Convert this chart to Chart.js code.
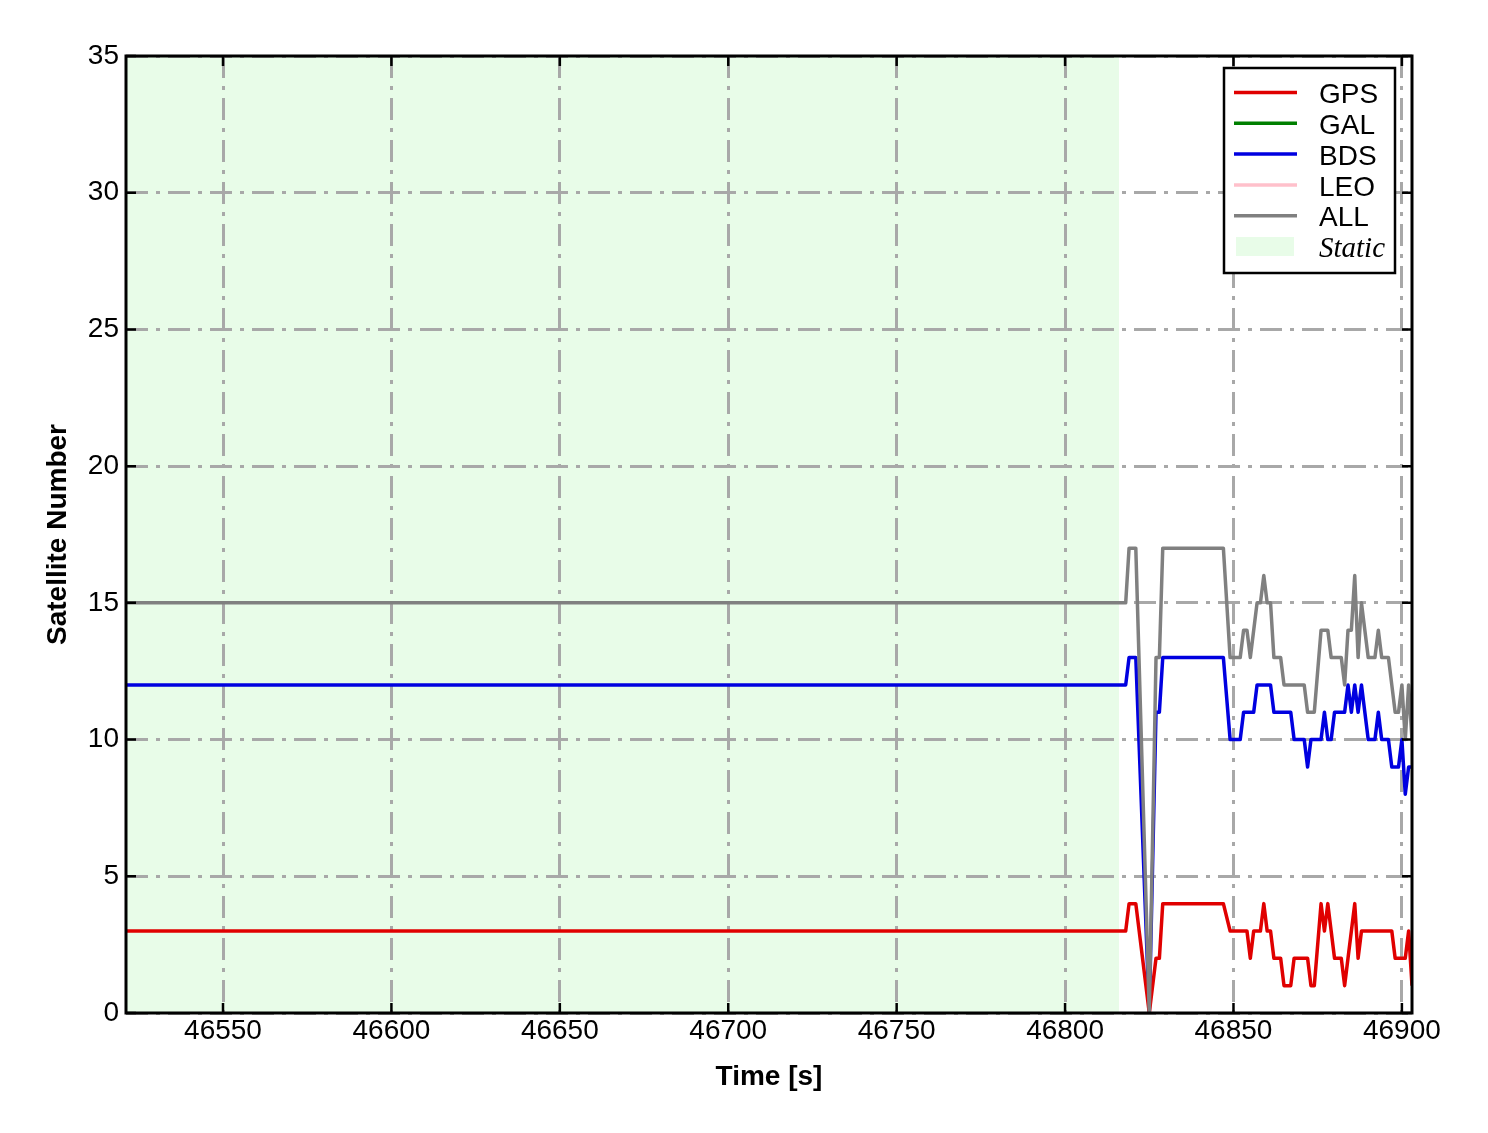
<!DOCTYPE html>
<html>
<head>
<meta charset="utf-8">
<script src="https://cdn.jsdelivr.net/npm/chart.js@4.4.1/dist/chart.umd.min.js"></script>
<style>
  html, body { margin: 0; padding: 0; background: #fff; }
  #wrap { width: 1488px; height: 1133px; }
</style>
</head>
<body>
<div id="wrap"><canvas id="satChart" width="1488" height="1133"></canvas></div>
<script>
// epochs [s] (flat stretches kept as their end points)
const timeSec = [
  46521, 46818, 46819, 46821, 46825, 46827, 46828, 46829, 46847,
  46849, 46850, 46851, 46852, 46853, 46854, 46855, 46856, 46857, 46858,
  46859, 46860, 46861, 46862, 46863, 46864, 46865, 46866, 46867, 46868,
  46869, 46870, 46871, 46872, 46873, 46874, 46876, 46877, 46878, 46879,
  46880, 46881, 46882, 46883, 46884, 46885, 46886, 46887, 46888, 46889,
  46890, 46891, 46892, 46893, 46894, 46895, 46896, 46897, 46898, 46899,
  46900, 46901, 46902, 46903
];
const gpsCount = [
  3, 3, 4, 4, 0, 2, 2, 4, 4,
  3, 3, 3, 3, 3, 3, 2, 3, 3, 3,
  4, 3, 3, 2, 2, 2, 1, 1, 1, 2,
  2, 2, 2, 2, 1, 1, 4, 3, 4, 3,
  2, 2, 2, 1, 2, 3, 4, 2, 3, 3,
  3, 3, 3, 3, 3, 3, 3, 3, 2, 2,
  2, 2, 3, 1
];
const bdsCount = [
  12, 12, 13, 13, 0, 11, 11, 13, 13,
  10, 10, 10, 10, 11, 11, 11, 11, 12, 12,
  12, 12, 12, 11, 11, 11, 11, 11, 11, 10,
  10, 10, 10, 9, 10, 10, 10, 11, 10, 10,
  11, 11, 11, 11, 12, 11, 12, 11, 12, 11,
  10, 10, 10, 11, 10, 10, 10, 9, 9, 9,
  10, 8, 9, 9
];
const allCount = [
  15, 15, 17, 17, 0, 13, 13, 17, 17,
  13, 13, 13, 13, 14, 14, 13, 14, 15, 15,
  16, 15, 15, 13, 13, 13, 12, 12, 12, 12,
  12, 12, 12, 11, 11, 11, 14, 14, 14, 13,
  13, 13, 13, 12, 14, 14, 16, 13, 15, 14,
  13, 13, 13, 14, 13, 13, 13, 12, 11, 11,
  12, 10, 12, 10
];
const galCount = [];   // no GAL / LEO curve visible
const leoCount = [];

const xTicks = [46550, 46600, 46650, 46700, 46750, 46800, 46850, 46900];
const yTicks = [0, 5, 10, 15, 20, 25, 30, 35];
const xMin = 46521.2, xMax = 46903;
const staticEnd = 46816;

const staticColor = '#e8fce8';
const gridColor = '#a8a8a8';
const gridDash = [22, 8, 4, 8];

const toXY = vals => vals.map((v, i) => ({ x: timeSec[i], y: v }));

Chart.defaults.font.family = '"Liberation Sans", Arial, sans-serif';
Chart.defaults.color = '#000';

// green "Static" span, drawn under the grid
const staticSpan = {
  id: 'staticSpan',
  beforeDraw(chart) {
    const { ctx, chartArea: a, scales: { x } } = chart;
    const xe = x.getPixelForValue(staticEnd);
    ctx.save();
    ctx.fillStyle = staticColor;
    ctx.fillRect(a.left, a.top, xe - a.left, a.bottom - a.top);
    ctx.restore();
  }
};

// black frame with inward ticks on all four sides
const frameTicks = {
  id: 'frameTicks',
  afterDatasetsDraw(chart) {
    const { ctx, chartArea: a, scales: { x, y } } = chart;
    const len = 10;
    ctx.save();
    ctx.strokeStyle = '#000';
    ctx.lineWidth = 2.5;
    ctx.beginPath();
    xTicks.forEach(v => {
      const px = x.getPixelForValue(v);
      ctx.moveTo(px, a.bottom); ctx.lineTo(px, a.bottom - len);
      ctx.moveTo(px, a.top); ctx.lineTo(px, a.top + len);
    });
    yTicks.forEach(v => {
      const py = y.getPixelForValue(v);
      ctx.moveTo(a.left, py); ctx.lineTo(a.left + len, py);
      ctx.moveTo(a.right, py); ctx.lineTo(a.right - len, py);
    });
    ctx.stroke();
    ctx.lineWidth = 3;
    ctx.strokeRect(a.left, a.top, a.right - a.left, a.bottom - a.top);
    ctx.restore();
  }
};

// boxed legend in the upper right corner
const legendBox = {
  id: 'legendBox',
  afterDraw(chart) {
    const { ctx, chartArea: a } = chart;
    const boxW = 171, boxH = 205;
    const bx = a.right - 17 - boxW, by = a.top + 12;
    ctx.save();
    ctx.fillStyle = '#fff';
    ctx.fillRect(bx, by, boxW, boxH);
    ctx.strokeStyle = '#000';
    ctx.lineWidth = 2.5;
    ctx.strokeRect(bx, by, boxW, boxH);
    const rowH = 30.8;
    let ry = by + 24.5;
    ctx.textBaseline = 'middle';
    chart.data.datasets.forEach(ds => {
      ctx.strokeStyle = ds.borderColor;
      ctx.lineWidth = 3.5;
      ctx.beginPath();
      ctx.moveTo(bx + 10, ry);
      ctx.lineTo(bx + 73, ry);
      ctx.stroke();
      ctx.fillStyle = '#000';
      ctx.font = '28px "Liberation Sans", Arial, sans-serif';
      ctx.fillText(ds.label, bx + 95, ry + 3);
      ry += rowH;
    });
    ctx.fillStyle = staticColor;
    ctx.fillRect(bx + 12, ry - 9.5, 58, 19);
    ctx.fillStyle = '#000';
    ctx.font = 'italic 29px "Liberation Serif", "Times New Roman", serif';
    ctx.fillText('Static', bx + 95, ry + 3);
    ctx.restore();
  }
};

const line = (label, vals, color, order) => ({
  label: label,
  data: toXY(vals),
  borderColor: color,
  backgroundColor: color,
  borderWidth: 3.5,
  borderJoinStyle: 'round',
  pointRadius: 0,
  tension: 0,
  fill: false,
  order: order
});

new Chart(document.getElementById('satChart'), {
  type: 'line',
  data: {
    datasets: [
      line('GPS', gpsCount, '#e00000', 1),
      line('GAL', galCount, '#007f00', 1),
      line('BDS', bdsCount, '#0000e0', 1),
      line('LEO', leoCount, '#ffc0cb', 1),
      line('ALL', allCount, '#808080', 0)
    ]
  },
  options: {
    responsive: false,
    animation: false,
    layout: { padding: { left: 0, right: 76, top: 56, bottom: 0 } },
    plugins: {
      legend: { display: false },
      tooltip: { enabled: false }
    },
    scales: {
      x: {
        type: 'linear',
        min: xMin,
        max: xMax,
        afterBuildTicks: s => { s.ticks = xTicks.map(v => ({ value: v })); },
        afterFit: s => { s.height = 120; },
        grid: { color: gridColor, lineWidth: 3, drawTicks: false },
        border: { display: false, dash: gridDash },
        ticks: {
          padding: 1,
          maxRotation: 0,
          font: { size: 28 },
          color: '#000',
          callback: v => String(v)
        },
        title: {
          display: true,
          text: 'Time [s]',
          color: '#000',
          font: { size: 28, weight: 'bold' },
          padding: { top: 0, bottom: 39 }
        }
      },
      y: {
        min: 0,
        max: 35,
        afterBuildTicks: s => { s.ticks = yTicks.map(v => ({ value: v })); },
        afterFit: s => { s.width = 126; },
        grid: { color: gridColor, lineWidth: 3, drawTicks: false },
        border: { display: false, dash: gridDash },
        ticks: {
          padding: 7,
          font: { size: 28 },
          color: '#000',
          callback: v => String(v)
        },
        title: {
          display: true,
          text: 'Satellite Number',
          color: '#000',
          font: { size: 28, weight: 'bold' },
          padding: { top: 41, bottom: 0 }
        }
      }
    }
  },
  plugins: [staticSpan, frameTicks, legendBox]
});
</script>
</body>
</html>
